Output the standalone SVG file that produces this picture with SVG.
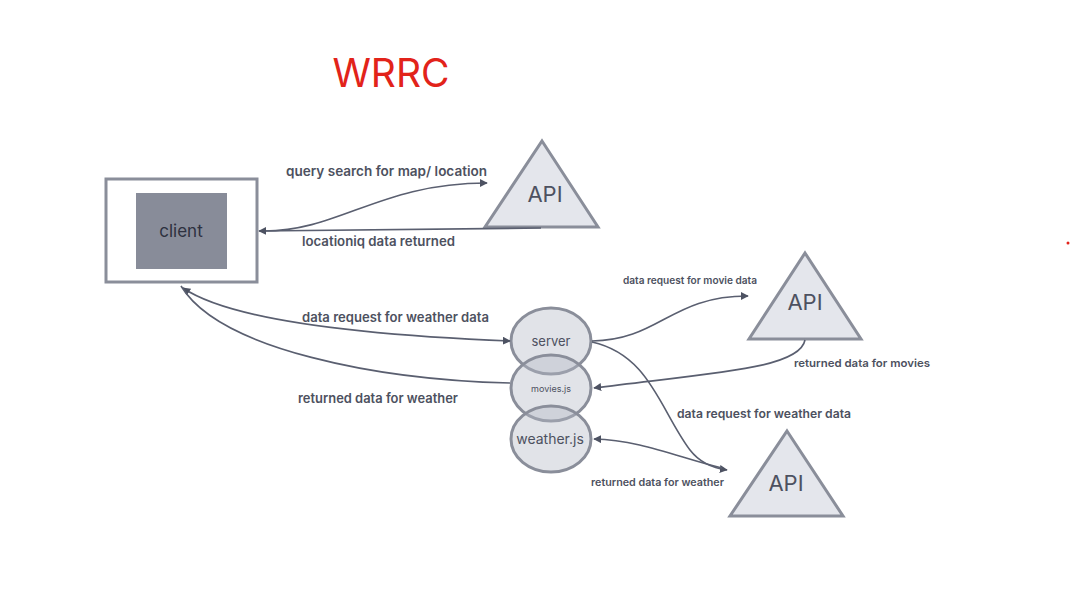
<svg xmlns="http://www.w3.org/2000/svg" width="1072" height="593" viewBox="0 0 1072 593">
<style>
.lbl{font-family:Inter,"Liberation Sans",sans-serif;font-weight:600;fill:#4d5160}
.nd{font-family:Inter,"Liberation Sans",sans-serif;fill:#4d5160;text-anchor:middle}
.tri{fill:#e4e6ec;stroke:#8a8e9a;stroke-width:3;stroke-linejoin:miter}
.ell{fill:#b4b8c5;fill-opacity:0.4;stroke:#8a8e9a;stroke-width:3}
.cn{fill:none;stroke:#5a5f70;stroke-width:1.6}
</style>
<defs>
<marker id="ah" viewBox="0 0 10 10" refX="9" refY="5" markerWidth="8" markerHeight="8" orient="auto-start-reverse" markerUnits="userSpaceOnUse">
<path d="M0,0 L10,5 L0,10 z" fill="#4d5262"/>
</marker>
</defs>
<rect width="1072" height="593" fill="#ffffff"/>
<text x="391" y="87" font-family="Inter,'Liberation Sans',sans-serif" font-size="39" fill="#e2231a" text-anchor="middle">WRRC</text>
<circle cx="1068" cy="243" r="1.5" fill="#e2231a"/>

<g id="client">
<rect x="106" y="179" width="151" height="103" fill="#ffffff" stroke="#8a8e9a" stroke-width="3"/>
<rect x="136" y="193" width="91" height="76" fill="#888c99"/>
<text class="nd" x="181" y="237" font-size="17" style="fill:#2e3140">client</text>
</g>

<g id="api1">
<polygon class="tri" points="542,141 598,227 485,227"/>
<text class="nd" x="545" y="202" font-size="22">API</text>
</g>
<g id="api2">
<polygon class="tri" points="805,253 861,339 749,339"/>
<text class="nd" x="805" y="310" font-size="22">API</text>
</g>
<g id="api3">
<polygon class="tri" points="787,431 843,516 730,516"/>
<text class="nd" x="786" y="491" font-size="22">API</text>
</g>

<g id="server">
<ellipse class="ell" cx="551" cy="341" rx="40" ry="33"/>
<text class="nd" x="551" y="346" font-size="13">server</text>
</g>
<g id="movies">
<ellipse class="ell" cx="551" cy="388" rx="40" ry="33"/>
<text class="nd" x="551" y="392" font-size="9">movies.js</text>
</g>
<g id="weather">
<ellipse class="ell" cx="551" cy="439" rx="40" ry="33"/>
<text class="nd" x="550" y="444" font-size="14">weather.js</text>
</g>

<g id="connectors">
<path class="cn" d="M264 231 C 340 231, 380 183, 487 183" marker-end="url(#ah)"/>
<path class="cn" d="M541 228 L 259 231" marker-end="url(#ah)"/>
<path class="cn" d="M183 288 C 230 320, 360 335, 510 341" marker-start="url(#ah)" marker-end="url(#ah)"/>
<path class="cn" d="M510 383 C 380 380, 220 350, 181 286"/>
<path class="cn" d="M592 341 C 660 340, 670 296, 748 296" marker-end="url(#ah)"/>
<path class="cn" d="M805 340 C 800 368, 720 372, 594 388" marker-end="url(#ah)"/>
<path class="cn" d="M592 342 C 650 355, 660 410, 690 450 C 700 463, 712 468, 727 470" marker-end="url(#ah)"/>
<path class="cn" d="M722 468 C 680 458, 640 440, 594 439" marker-end="url(#ah)"/>
</g>

<g id="labels">
<text class="lbl" x="286" y="176" font-size="13.3" textLength="201" lengthAdjust="spacingAndGlyphs">query search for map/ location</text>
<text class="lbl" x="302" y="246" font-size="13" textLength="153" lengthAdjust="spacingAndGlyphs">locationiq data returned</text>
<text class="lbl" x="302" y="322" font-size="13" textLength="187" lengthAdjust="spacingAndGlyphs">data request for weather data</text>
<text class="lbl" x="298" y="403" font-size="13" textLength="160" lengthAdjust="spacingAndGlyphs">returned data for weather</text>
<text class="lbl" x="623" y="284" font-size="10" textLength="134" lengthAdjust="spacingAndGlyphs">data request for movie data</text>
<text class="lbl" x="794" y="367" font-size="11" textLength="136" lengthAdjust="spacingAndGlyphs">returned data for movies</text>
<text class="lbl" x="677" y="418" font-size="12" textLength="174" lengthAdjust="spacingAndGlyphs">data request for weather data</text>
<text class="lbl" x="591" y="486" font-size="10" textLength="133" lengthAdjust="spacingAndGlyphs">returned data for weather</text>
</g>
</svg>
